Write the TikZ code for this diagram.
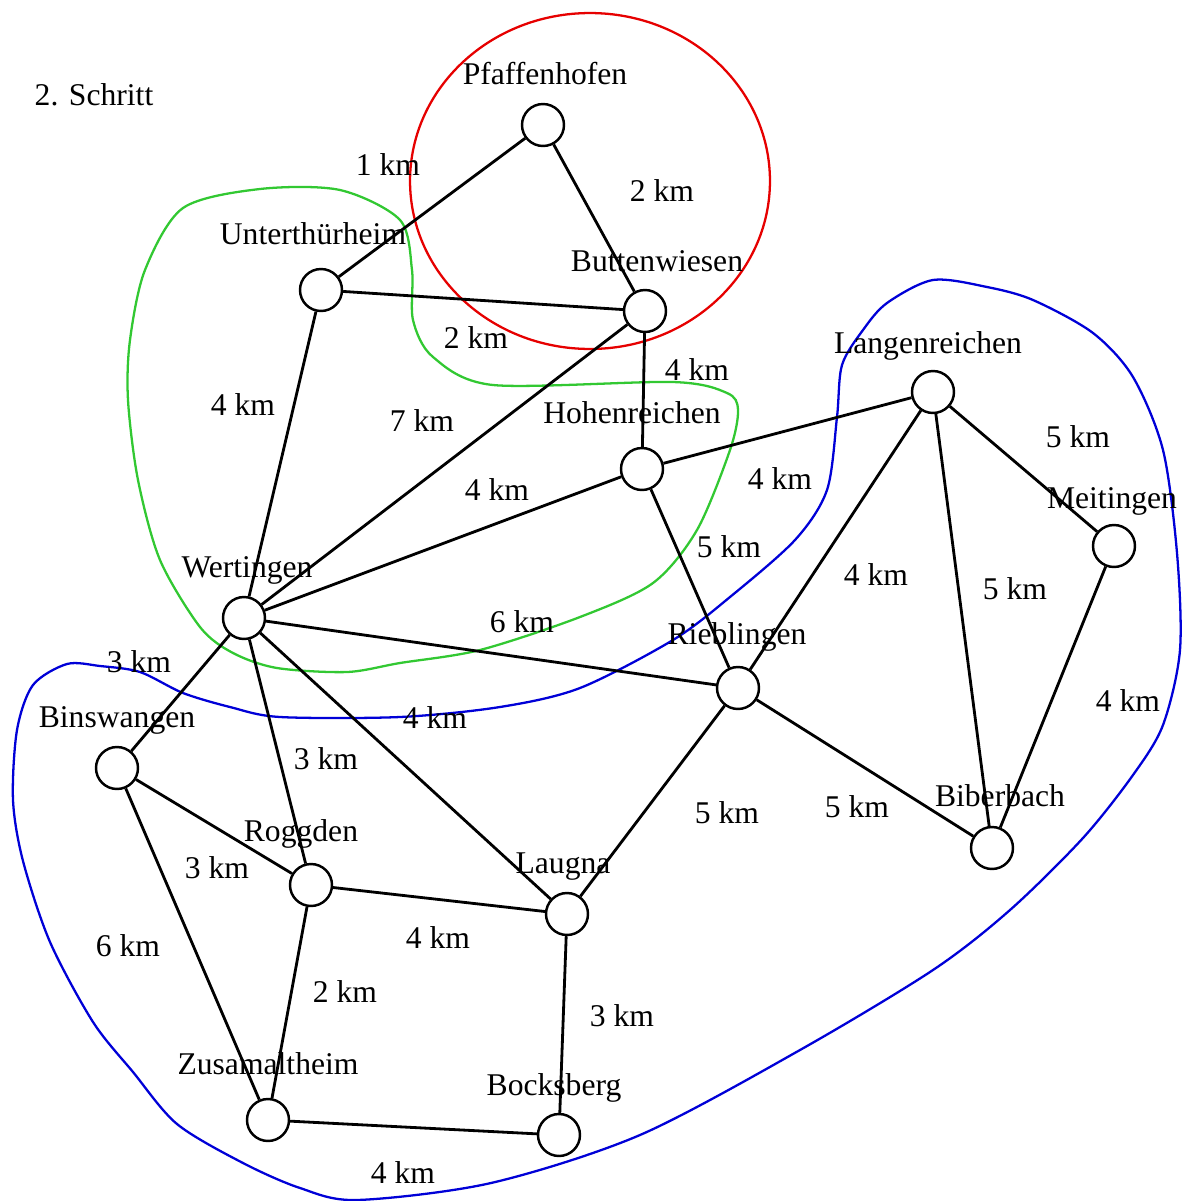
\documentclass[tikz,border=0pt]{standalone}
\usepackage{fontspec}
\setmainfont{Liberation Serif}
\usetikzlibrary{positioning}
\definecolor{zonered}{RGB}{230,0,0}
\definecolor{zonegreen}{RGB}{50,200,50}
\definecolor{zoneblue}{RGB}{0,0,215}

\begin{document}
\begin{tikzpicture}[x=0.02cm,y=-0.02cm,
  town/.style={circle,draw,line width=1.4pt,fill=white,minimum size=0.84cm,inner sep=0pt},
  road/.style={line width=1.6pt},
  zone/.style={line width=1.3pt},
  txt/.style={font=\fontsize{18}{20}\selectfont,text height=12pt,text depth=0pt,inner sep=0pt}]
\useasboundingbox (0,0) rectangle (1189,1201);

% zones
\draw[zone,zonered] (590,181) ellipse [x radius=3.6cm, y radius=3.36cm];
\draw[zone,zonegreen] plot[smooth cycle] coordinates {(183,208) (260,189) (340,190) (400,220) (412,270) (413,320) (433,357) (493,385) (673,382) (727,393) (738,410) (730,450) (697,530) (653,583) (580,617) (480,650) (400,663) (347,672) (277,668) (233,653) (200,627) (160,560) (138,480) (128,400) (130,340) (145,270)};
\draw[zone,zoneblue] plot[smooth cycle] coordinates {(67,664) (100,666) (140,672) (183,693) (230,707) (280,717) (400,717) (500,707) (580,688) (673,640) (730,597) (795,540) (827,490) (837,417) (842,365) (863,330) (887,303) (933,280) (987,287) (1033,300) (1093,333) (1133,377) (1163,450) (1177,553) (1180,650) (1163,725) (1133,775) (1083,838) (1010,910) (933,970) (800,1050) (640,1135) (491,1183) (357,1200) (300,1188) (243,1163) (177,1124) (133,1072) (93,1022) (50,942) (23,861) (13,800) (17,730) (33,685)};

% towns
\node[town] (pfa) at (543,125) {};
\node[town] (unt) at (321,290) {};
\node[town] (but) at (645,311) {};
\node[town] (hoh) at (642,469) {};
\node[town] (lan) at (933,392) {};
\node[town] (mei) at (1114,546) {};
\node[town] (wer) at (244,618) {};
\node[town] (rie) at (738,688) {};
\node[town] (bin) at (117,768) {};
\node[town] (bib) at (992,848) {};
\node[town] (rog) at (311,885) {};
\node[town] (lau) at (567,914) {};
\node[town] (zus) at (268,1120) {};
\node[town] (boc) at (559,1135) {};

% roads
\draw[road] (pfa) -- (unt);
\draw[road] (pfa) -- (but);
\draw[road] (unt) -- (but);
\draw[road] (unt) -- (wer);
\draw[road] (but) -- (wer);
\draw[road] (but) -- (hoh);
\draw[road] (hoh) -- (lan);
\draw[road] (hoh) -- (wer);
\draw[road] (hoh) -- (rie);
\draw[road] (lan) -- (mei);
\draw[road] (lan) -- (rie);
\draw[road] (lan) -- (bib);
\draw[road] (mei) -- (bib);
\draw[road] (wer) -- (rie);
\draw[road] (wer) -- (bin);
\draw[road] (wer) -- (lau);
\draw[road] (wer) -- (rog);
\draw[road] (rie) -- (lau);
\draw[road] (rie) -- (bib);
\draw[road] (bin) -- (rog);
\draw[road] (bin) -- (zus);
\draw[road] (rog) -- (lau);
\draw[road] (rog) -- (zus);
\draw[road] (lau) -- (boc);
\draw[road] (zus) -- (boc);

% names
\node[txt] (title) at (94,95) {2. Schritt};
\node[txt] (pfaT) at (545,74) {Pfaffenhofen};
\node[txt] (untT) at (313,234) {Unterthürheim};
\node[txt] (butT) at (657,261) {Buttenwiesen};
\node[txt] (hohT) at (632,413) {Hohenreichen};
\node[txt] (lanT) at (928,343) {Langenreichen};
\node[txt] (meiT) at (1112,498) {Meitingen};
\node[txt] (werT) at (247,567) {Wertingen};
\node[txt] (rieT) at (737,634) {Rieblingen};
\node[txt] (binT) at (117,717) {Binswangen};
\node[txt] (bibT) at (1000,796) {Biberbach};
\node[txt] (rogT) at (301,831) {Roggden};
\node[txt] (lauT) at (563,863) {Laugna};
\node[txt] (zusT) at (268,1064) {Zusamaltheim};
\node[txt] (bocT) at (554,1085) {Bocksberg};

% distances
\node[txt] (d1) at (388,165) {1 km};
\node[txt] (d2) at (662,191) {2 km};
\node[txt] (d3) at (476,338) {2 km};
\node[txt] (d4) at (243,405) {4 km};
\node[txt] (d5) at (422,421) {7 km};
\node[txt] (d6) at (697,370) {4 km};
\node[txt] (d7) at (780,479) {4 km};
\node[txt] (d8) at (497,490) {4 km};
\node[txt] (d9) at (729,547) {5 km};
\node[txt] (d10) at (1078,437) {5 km};
\node[txt] (d11) at (876,575) {4 km};
\node[txt] (d12) at (1015,589) {5 km};
\node[txt] (d13) at (1128,701) {4 km};
\node[txt] (d14) at (522,622) {6 km};
\node[txt] (d15) at (139,662) {3 km};
\node[txt] (d16) at (435,718) {4 km};
\node[txt] (d17) at (326,759) {3 km};
\node[txt] (d18) at (727,813) {5 km};
\node[txt] (d19) at (857,807) {5 km};
\node[txt] (d20) at (217,868) {3 km};
\node[txt] (d21) at (128,946) {6 km};
\node[txt] (d22) at (438,938) {4 km};
\node[txt] (d23) at (345,992) {2 km};
\node[txt] (d24) at (622,1016) {3 km};
\node[txt] (d25) at (403,1173) {4 km};

\end{tikzpicture}
\end{document}
